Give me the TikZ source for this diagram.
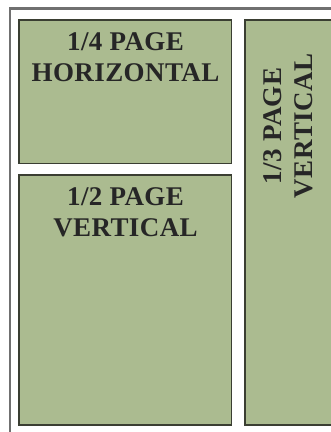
\documentclass[tikz,border=0pt]{standalone}
\usepackage{fontspec}
\setmainfont{Liberation Serif}
\newfontfamily\adfont[LetterSpace=1.5]{Liberation Serif}
\usetikzlibrary{positioning}

\definecolor{adgreen}{RGB}{171,187,144}
\definecolor{adedge}{RGB}{58,62,50}
\definecolor{framegray}{RGB}{112,112,112}

\begin{document}
\begin{tikzpicture}[
                x = 1pt, y = -1pt, % one unit per pixel, y downwards
                semithick % line style
            ]

            \tikzstyle{adbox}=[draw = adedge, fill = adgreen, line width = 1.2pt]
            \tikzstyle{adlabel}=[inner sep = 0pt, align = center,
            font = \adfont\fontsize{27}{31}\selectfont\bfseries, text = black!85]

            \useasboundingbox[fill = white] (0,0) rectangle (331,432);

            % page frame, cut off at right and bottom
            \draw[framegray, line width = 2.5pt] (10,440) -- (10,8.3) -- (340,8.3);

            % ad spaces
            \draw[adbox] (19,20) rectangle (231.5,163.5);
            \draw[adbox] (19,175) rectangle (231.5,425);
            \draw[adbox] (245,20) rectangle (340,425);

            \node[adlabel, anchor = base] (quarter) at (125.5,81) {1/4 PAGE\\HORIZONTAL};
            \node[adlabel, anchor = base] (half) at (125.5,236) {1/2 PAGE\\VERTICAL};
            \node[adlabel, rotate = 90] (third) at (288,126) {1/3 PAGE\\VERTICAL};

        \end{tikzpicture}
\end{document}
